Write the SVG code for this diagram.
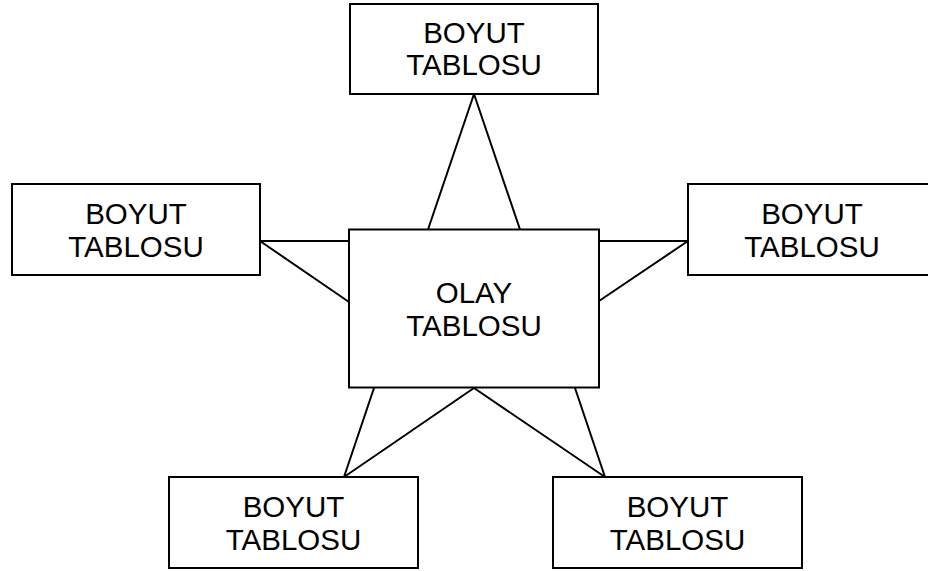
<svg xmlns="http://www.w3.org/2000/svg" width="928" height="571" viewBox="0 0 928 571">
  <style>
    .box { fill: #ffffff; stroke: #000000; stroke-width: 2; }
    .link { stroke: #000000; stroke-width: 2; fill: none; stroke-linecap: round; }
    .label { font-family: "Liberation Sans", Arial, sans-serif; font-size: 29.5px; fill: #000000; text-anchor: middle; }
  </style>
  <rect width="928" height="571" fill="#ffffff"/>

  <!-- connectors between fact table and dimension tables -->
  <g id="connectors">
    <line class="link" x1="474" y1="94" x2="428" y2="229.5"/>
    <line class="link" x1="474" y1="94" x2="520" y2="229.5"/>
    <line class="link" x1="260" y1="241" x2="349" y2="241"/>
    <line class="link" x1="260" y1="241" x2="349" y2="302"/>
    <line class="link" x1="599" y1="241" x2="688" y2="241"/>
    <line class="link" x1="599" y1="301" x2="688" y2="241"/>
    <line class="link" x1="374" y1="388" x2="344" y2="477"/>
    <line class="link" x1="474" y1="388" x2="344" y2="477"/>
    <line class="link" x1="474" y1="388" x2="605" y2="477"/>
    <line class="link" x1="575" y1="388" x2="605" y2="477"/>
  </g>

  <g id="dim-top">
    <rect class="box" x="350" y="4" width="248" height="90"/>
    <text class="label" x="474" y="43">BOYUT</text>
    <text class="label" x="474" y="75">TABLOSU</text>
  </g>

  <g id="dim-left">
    <rect class="box" x="12" y="184" width="248" height="91"/>
    <text class="label" x="136" y="224">BOYUT</text>
    <text class="label" x="136" y="257">TABLOSU</text>
  </g>

  <g id="dim-right">
    <rect class="box" x="688" y="184" width="248" height="91"/>
    <text class="label" x="812" y="224">BOYUT</text>
    <text class="label" x="812" y="257">TABLOSU</text>
  </g>

  <g id="fact">
    <rect class="box" x="349" y="229.5" width="250" height="158"/>
    <text class="label" x="474" y="303">OLAY</text>
    <text class="label" x="474" y="336">TABLOSU</text>
  </g>

  <g id="dim-bottom-left">
    <rect class="box" x="169" y="477" width="249" height="91"/>
    <text class="label" x="293.5" y="517">BOYUT</text>
    <text class="label" x="293.5" y="550">TABLOSU</text>
  </g>

  <g id="dim-bottom-right">
    <rect class="box" x="553" y="477" width="249" height="91"/>
    <text class="label" x="677.5" y="517">BOYUT</text>
    <text class="label" x="677.5" y="550">TABLOSU</text>
  </g>
</svg>
